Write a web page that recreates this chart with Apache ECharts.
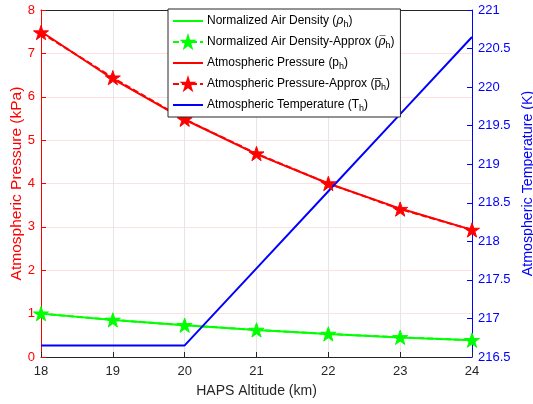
<!DOCTYPE html>
<html>
<head>
<meta charset="utf-8">
<script src="https://cdn.jsdelivr.net/npm/echarts@6/dist/echarts.min.js"></script>
<style>html,body{margin:0;padding:0;background:#fff;}#c{width:533px;height:404px;}</style>
</head>
<body>
<div id="c"></div>
<script>
const altitude = [18, 19, 20, 21, 22, 23, 24];
const densityNorm = [1.0, 0.854, 0.731, 0.622, 0.530, 0.452, 0.386];
const densityApprox = [1.0, 0.856, 0.733, 0.624, 0.532, 0.454, 0.388];
const pressure = [7.505, 6.41, 5.475, 4.678, 3.999, 3.422, 2.930];
const pressureApprox = [7.48, 6.44, 5.48, 4.69, 4.00, 3.41, 2.93];
const temperature = [216.65, 216.65, 216.65, 217.65, 218.65, 219.65, 220.65];
const leftTicks = [0, 1, 2, 3, 4, 5, 6, 7, 8];
const rightTicks = [216.5, 217, 217.5, 218, 218.5, 219, 219.5, 220, 220.5, 221];
const names = [
  'Normalized Air Density (\u03C1h)',
  'Normalized Air Density-Approx (\u03C1\u0305h)',
  'Atmospheric Pressure (ph)',
  'Atmospheric Pressure-Approx (p\u0305h)',
  'Atmospheric Temperature (Th)'
];
const legendRich = [
  '{a|Normalized Air Density (}{i|\u03C1}{s|h}{a|)}',
  '{a|Normalized Air Density-Approx (}{i|\u03C1\u0305}{s|h}{a|)}',
  '{a|Atmospheric Pressure (p}{s|h}{a|)}',
  '{a|Atmospheric Pressure-Approx (p\u0305}{s|h}{a|)}',
  '{a|Atmospheric Temperature (T}{s|h}{a|)}'
];
const hasMarker = [false, true, false, true, false];
const star = 'path://M100,0 L122.45,69.1 L195.1,69.1 L136.3,111.8 L158.8,180.9 L100,138.2 L41.2,180.9 L63.7,111.8 L4.9,69.1 L77.55,69.1 Z';
const pts = (ys) => altitude.map((x, i) => [x, ys[i]]);
const font = 'Liberation Sans, Arial, Helvetica, sans-serif';
const clear = 'rgba(0,0,0,0)';

const chart = echarts.init(document.getElementById('c'));
chart.setOption({
  animation: false,
  textStyle: { fontFamily: font },
  grid: { left: 41, right: 61, top: 10, bottom: 47, outerBoundsMode: 'none', containLabel: false },
  legend: {
    orient: 'vertical',
    left: 168, top: 9,
    padding: [4, 6, 4, 4],
    itemGap: 5,
    itemWidth: 30, itemHeight: 14,
    backgroundColor: '#fff',
    borderColor: '#262626', borderWidth: 1,
    data: names.map((n, i) => hasMarker[i] ? { name: n } :
      { name: n, itemStyle: { color: clear, borderColor: clear, borderWidth: 0 } }),
    formatter: (n) => legendRich[names.indexOf(n)],
    textStyle: {
      fontSize: 12, color: '#000', fontFamily: font, padding: [0, 0, 0, -1],
      rich: {
        a: { fontSize: 12, color: '#000', fontFamily: font, lineHeight: 14 },
        i: { fontSize: 12, color: '#000', fontStyle: 'italic', fontFamily: 'DejaVu Serif, serif', lineHeight: 14 },
        s: { fontSize: 9, color: '#000', fontFamily: font, lineHeight: 14, padding: [7, 0, 0, 0] }
      }
    }
  },
  xAxis: [{
    type: 'value', min: 18, max: 24, interval: 1,
    name: 'HAPS Altitude (km)', nameLocation: 'middle', nameGap: 27,
    nameTextStyle: { fontSize: 14, color: '#262626' },
    axisLine: { show: true, lineStyle: { color: '#262626', width: 1 } },
    axisTick: { show: true, inside: true, length: 5, lineStyle: { color: '#262626' } },
    axisLabel: { fontSize: 13, color: '#262626', margin: 8 },
    splitLine: { show: true, lineStyle: { color: '#e6e6e6', width: 1 } }
  }, {
    type: 'value', min: 18, max: 24, position: 'top',
    axisLine: { show: true, onZero: false, lineStyle: { color: '#262626', width: 1 } },
    axisTick: { show: false }, axisLabel: { show: false }, splitLine: { show: false }
  }],
  yAxis: [{
    type: 'value', min: 0, max: 8, interval: 1, position: 'left',
    name: 'Atmospheric Pressure (kPa)', nameLocation: 'middle', nameGap: 16,
    nameMoveOverlap: false,
    nameTextStyle: { fontSize: 15.5, color: '#ff0000' },
    axisLine: { show: true, lineStyle: { color: '#ff0000', width: 1 } },
    axisTick: { show: true, inside: true, length: 5, lineStyle: { color: '#ff0000' } },
    axisLabel: { fontSize: 13, color: '#ff0000', margin: 6, formatter: (v) => leftTicks.includes(v) ? String(v) : '' },
    splitLine: { show: true, lineStyle: { color: '#fde0e0', width: 1 } }
  }, {
    type: 'value', min: 216.5, max: 221, interval: 0.5, position: 'right',
    name: 'Atmospheric Temperature (K)', nameLocation: 'middle', nameGap: 46,
    nameRotate: 90,
    nameTextStyle: { fontSize: 14.2, color: '#0000ff' },
    axisLine: { show: true, lineStyle: { color: '#0000ff', width: 1 } },
    axisTick: { show: true, inside: true, length: 5, lineStyle: { color: '#0000ff' } },
    axisLabel: { fontSize: 13, color: '#0000ff', margin: 6, formatter: (v) => rightTicks.includes(v) ? String(v) : '' },
    splitLine: { show: false }
  }],
  series: [{
    name: names[0], type: 'line', yAxisIndex: 0, data: pts(densityNorm),
    symbol: 'none',
    lineStyle: { color: '#00ff00', width: 2 }, itemStyle: { color: '#00ff00' }
  }, {
    name: names[1], type: 'line', yAxisIndex: 0, data: pts(densityApprox),
    symbol: star, symbolSize: 15, symbolKeepAspect: true,
    lineStyle: { color: '#00ff00', width: 2, type: [6, 3] },
    itemStyle: { color: '#00ff00', borderColor: '#00ff00', borderWidth: 1 }
  }, {
    name: names[2], type: 'line', yAxisIndex: 0, data: pts(pressure),
    symbol: 'none',
    lineStyle: { color: '#ff0000', width: 2 }, itemStyle: { color: '#ff0000' }
  }, {
    name: names[3], type: 'line', yAxisIndex: 0, data: pts(pressureApprox),
    symbol: star, symbolSize: 15, symbolKeepAspect: true,
    lineStyle: { color: '#ff0000', width: 2, type: [6, 3] },
    itemStyle: { color: '#ff0000', borderColor: '#ff0000', borderWidth: 1 }
  }, {
    name: names[4], type: 'line', yAxisIndex: 1, data: pts(temperature),
    symbol: 'none',
    lineStyle: { color: '#0000ff', width: 2 }, itemStyle: { color: '#0000ff' }
  }]
});
</script>
</body>
</html>
